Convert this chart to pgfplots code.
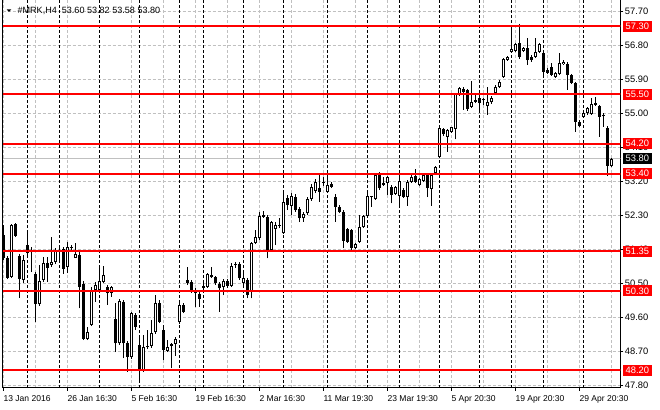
\documentclass[border=0pt]{standalone}
\usepackage{pgfplots}
\pgfplotsset{compat=1.18}
\usepackage{pgfplotstable}
\usepackage{fontspec}
\setmainfont{Liberation Sans}

\definecolor{gridgray}{RGB}{192,192,192}
\definecolor{mtred}{RGB}{255,0,0}

% H4 candles, x = bar number (4 px per bar)
\pgfplotstableread{
k o h l c
0 51.78 52.04 51.12 51.16
1 51.16 51.22 50.61 50.65
3 52.07 52.10 51.73 51.76
4 51.22 51.28 50.12 50.61
6 51.51 51.89 51.25 51.30
7 51.38 51.47 50.80 51.32
8 50.75 50.80 49.48 49.95
11 51.03 51.21 50.54 50.91
14 51.38 51.51 51.06 51.36
15 51.41 51.46 50.75 50.89
17 51.45 51.51 51.38 51.44
19 51.25 51.38 49.84 50.40
20 50.48 50.56 49.00 49.03
26 50.41 50.46 49.93 50.24
28 49.56 49.98 48.68 48.91
30 50.00 50.06 48.52 48.91
31 48.91 48.97 48.16 48.56
33 49.66 49.71 49.26 49.34
34 48.87 49.13 47.87 48.21
39 49.97 50.06 49.45 49.48
40 49.27 49.40 48.47 48.74
42 48.89 48.91 48.25 48.84
45 49.93 49.98 49.71 49.75
46 50.59 50.94 50.46 50.50
47 50.53 50.59 50.24 50.28
48 50.31 50.38 49.88 50.24
49 50.22 50.28 49.88 50.08
50 50.40 50.56 50.27 50.39
52 50.72 50.92 50.64 50.66
53 50.66 50.69 50.46 50.50
54 50.48 50.54 49.74 50.37
56 50.56 50.61 50.38 50.43
58 50.99 51.06 50.91 50.98
59 51.01 51.06 50.59 50.63
61 50.59 50.64 50.10 50.19
65 52.30 52.42 52.23 52.26
66 52.26 52.31 51.16 51.38
69 52.03 52.22 51.96 52.02
71 52.75 52.84 52.44 52.57
73 52.79 52.86 52.39 52.44
74 52.46 52.52 52.12 52.22
79 53.02 53.37 52.66 52.93
80 53.17 53.32 53.08 53.16
82 53.12 53.18 53.02 53.06
83 52.79 52.86 52.13 52.52
84 52.53 52.57 52.36 52.40
85 52.38 52.44 51.43 51.63
86 51.93 51.96 51.57 51.60
87 51.91 51.94 51.38 51.43
92 52.80 52.81 52.53 52.78
94 53.37 53.46 52.97 53.02
95 53.15 53.32 53.08 53.10
97 53.06 53.10 52.62 52.84
100 52.97 53.02 52.76 52.79
103 53.34 53.52 53.16 53.19
106 53.37 53.39 52.78 53.02
110 54.58 54.61 54.40 54.45
115 55.64 55.71 55.09 55.57
116 55.62 55.64 55.07 55.11
119 55.40 55.53 55.02 55.27
120 55.35 55.41 55.22 55.34
129 56.85 57.36 56.44 56.48
131 56.72 56.99 56.28 56.41
132 56.50 56.54 56.36 56.41
135 56.59 56.62 55.97 56.10
136 56.15 56.20 56.04 56.08
137 56.23 56.33 55.99 56.01
141 56.31 56.36 55.62 56.01
142 56.01 56.04 55.78 55.81
143 55.80 55.83 54.51 54.78
144 54.78 54.82 54.64 54.66
148 55.28 55.42 55.19 55.22
149 55.19 55.22 54.38 54.91
150 54.93 55.00 54.65 54.92
151 54.60 54.66 53.34 53.61
}\bear

\pgfplotstableread{
k o h l c
2 50.68 52.07 50.64 52.04
5 50.59 51.25 50.51 51.12
9 49.95 50.99 49.90 50.55
10 50.59 51.21 50.54 51.03
12 50.99 51.72 50.93 51.06
13 51.06 51.43 51.01 51.36
16 50.93 51.60 50.77 51.47
18 51.18 51.56 51.17 51.28
21 49.03 49.35 49.00 49.20
22 49.40 50.40 49.37 50.31
23 50.32 50.54 50.01 50.46
24 50.32 50.94 50.30 50.56
25 50.54 50.96 50.51 50.71
27 50.24 50.44 50.15 50.40
29 48.91 50.09 48.87 50.04
32 48.54 49.73 48.50 49.71
35 48.21 49.13 48.15 48.82
36 48.81 49.26 48.76 48.85
37 48.84 49.53 48.79 49.18
38 49.20 50.19 49.16 49.97
41 48.72 49.00 48.68 48.82
43 48.89 49.08 48.58 49.03
44 49.47 50.01 49.42 49.93
51 50.40 50.78 50.38 50.75
55 50.40 50.61 50.19 50.56
57 50.43 51.04 50.40 50.97
60 50.50 50.85 50.46 50.63
62 50.28 51.59 50.10 51.56
63 51.58 51.91 51.54 51.73
64 51.69 52.40 51.65 52.28
67 51.38 52.15 51.36 52.12
68 51.94 52.13 51.51 52.04
70 51.82 52.90 51.81 52.65
72 52.56 52.89 52.31 52.81
75 52.22 52.39 52.13 52.33
76 52.35 52.79 52.31 52.73
77 52.72 53.13 52.68 53.06
78 52.94 53.26 52.89 53.17
81 52.93 53.28 52.89 53.10
88 51.43 51.57 51.40 51.54
89 51.60 52.31 51.57 51.98
90 51.98 52.31 51.96 52.28
91 52.28 52.88 52.26 52.81
93 52.72 53.41 52.71 53.37
96 53.15 53.34 52.84 53.32
98 52.86 53.08 52.84 53.04
99 52.81 53.32 52.55 53.21
101 52.79 53.24 52.55 53.19
102 53.19 53.41 53.16 53.32
104 53.10 53.29 53.08 53.25
105 53.22 53.43 53.18 53.37
107 53.00 53.39 52.56 53.37
108 53.41 53.61 53.37 53.57
109 53.84 54.64 53.82 54.60
111 54.38 54.59 53.98 54.56
112 54.50 54.65 54.48 54.63
113 54.58 55.54 54.31 55.51
114 55.49 55.71 55.46 55.66
117 55.18 55.86 55.14 55.31
118 55.31 55.49 55.27 55.32
121 55.19 55.71 54.96 55.31
122 55.29 55.46 55.25 55.41
123 55.55 55.75 55.51 55.69
124 55.69 55.88 55.67 55.84
125 55.95 56.46 55.94 56.43
126 56.41 56.52 56.39 56.50
127 56.63 57.29 56.60 56.70
128 56.66 56.86 56.62 56.83
130 56.66 56.76 56.62 56.72
133 56.50 56.99 56.46 56.63
134 56.63 56.86 56.60 56.83
138 55.95 56.09 55.94 56.06
139 56.04 56.61 56.01 56.32
140 56.31 56.41 56.28 56.37
145 54.91 55.09 54.88 55.00
146 55.00 55.18 54.96 55.13
147 54.98 55.40 54.96 55.25
152 53.60 53.82 53.58 53.80
}\bull

\begin{document}
\begin{tikzpicture}
\useasboundingbox (-2.025pt,-16.5pt) rectangle (492.975pt,291pt);
\begin{axis}[
    name=ax, at={(0,0)}, anchor=south west,
    scale only axis, width=463.2pt, height=291pt,
    xmin=-0.15, xmax=154.25, ymin=47.73, ymax=58.0,
    axis x line*=bottom, axis y line*=right,
    axis line style={black, line width=0.75pt},
    tick align=outside, major tick length=2.25pt, minor tick length=0pt,
    tick style={black, line width=0.75pt},
    xtick={0,16,32,48,64,80,96,112,128,144},
    xticklabels={13 Jan 2016, 26 Jan 16:30, 5 Feb 16:30, 19 Feb 16:30, 2 Mar 16:30,
        11 Mar 19:30, 23 Mar 19:30, 5 Apr 20:30, 19 Apr 20:30, 29 Apr 20:30},
    minor xtick={8,24,40,56,72,88,104,120,136,152},
    ytick={47.8,48.7,49.6,50.5,51.4,52.3,53.2,54.1,55.0,55.9,56.8,57.7},
    yticklabels={47.80,48.70,49.60,50.50,51.40,52.30,53.20,54.10,55.00,55.90,56.80,57.70},
    xmajorgrids, xminorgrids, ymajorgrids,
    major grid style={gridgray, line width=0.75pt, dash pattern=on 2.25pt off 1.5pt},
    minor grid style={gridgray, line width=0.75pt, dash pattern=on 2.25pt off 1.5pt},
    extra x ticks={6,14,24,34,44,50,60,70,81,91,99,109,119,127,135,145},
    extra x tick labels={},
    extra x tick style={grid=major, major tick length=0pt,
        major grid style={black, line width=0.75pt, dash pattern=on 2.25pt off 1.5pt}},
    xticklabel style={font=\fontsize{6.4}{7}\selectfont, anchor=base west, inner sep=0pt, yshift=-8pt},
    yticklabel style={font=\fontsize{7}{8}\selectfont, anchor=west, inner sep=0pt, xshift=1pt},
]
% current price line
\addplot[gridgray, line width=0.75pt, forget plot] coordinates {(-1,53.80) (156,53.80)};

% wicks
\addplot[draw=none, mark=none, forget plot, error bars/.cd, y dir=plus, y explicit,
    error mark=none, error bar style={draw=black, line width=0.75pt}]
    table[x=k, y=l, y error plus expr=\thisrow{h}-\thisrow{l}] {\bear};
\addplot[draw=none, mark=none, forget plot, error bars/.cd, y dir=plus, y explicit,
    error mark=none, error bar style={draw=black, line width=0.75pt}]
    table[x=k, y=l, y error plus expr=\thisrow{h}-\thisrow{l}] {\bull};

% bodies: black for falling bars
\addplot[draw=none, mark=none, forget plot, error bars/.cd, y dir=plus, y explicit,
    error mark=none, error bar style={draw=black, line width=2.25pt}]
    table[x=k, y=c, y error plus expr={max(\thisrow{o}-\thisrow{c},0.03)}] {\bear};
% rising bars: black outline, white inside
\addplot[draw=none, mark=none, forget plot, error bars/.cd, y dir=plus, y explicit,
    error mark=none, error bar style={draw=black, line width=2.25pt}]
    table[x=k, y=o, y error plus expr={max(\thisrow{c}-\thisrow{o},0.03)}] {\bull};
\addplot[draw=none, mark=none, forget plot, error bars/.cd, y dir=plus, y explicit,
    error mark=none, error bar style={draw=white, line width=0.75pt}]
    table[x=k, y expr=\thisrow{o}+0.0265, y error plus expr={max(\thisrow{c}-\thisrow{o}-0.053,0)}] {\bull};

% horizontal levels
\addplot[mtred, line width=1.5pt, forget plot] coordinates {(-1,57.30) (156,57.30)};
\addplot[mtred, line width=1.5pt, forget plot] coordinates {(-1,55.50) (156,55.50)};
\addplot[mtred, line width=1.5pt, forget plot] coordinates {(-1,54.20) (156,54.20)};
\addplot[mtred, line width=1.5pt, forget plot] coordinates {(-1,53.40) (156,53.40)};
\addplot[mtred, line width=1.5pt, forget plot] coordinates {(-1,51.35) (156,51.35)};
\addplot[mtred, line width=1.5pt, forget plot] coordinates {(-1,50.30) (156,50.30)};
\addplot[mtred, line width=1.5pt, forget plot] coordinates {(-1,48.20) (156,48.20)};

\coordinate (r1) at (axis cs:154.25,57.30);
\coordinate (r2) at (axis cs:154.25,55.50);
\coordinate (r3) at (axis cs:154.25,54.20);
\coordinate (r4) at (axis cs:154.25,53.40);
\coordinate (r5) at (axis cs:154.25,51.35);
\coordinate (r6) at (axis cs:154.25,50.30);
\coordinate (r7) at (axis cs:154.25,48.20);
\coordinate (cp) at (axis cs:154.25,53.80);
\end{axis}

\draw[black, line width=0.75pt] (ax.south west) -- (ax.north west);

\tikzset{plbl/.style={anchor=west, xshift=1.8pt, minimum width=21.5pt, minimum height=8.25pt,
    inner sep=0pt, text=white, font=\fontsize{7}{8}\selectfont}}
\node[plbl, fill=mtred] at (r1) {57.30};
\node[plbl, fill=mtred] at (r2) {55.50};
\node[plbl, fill=mtred] at (r3) {54.20};
\node[plbl, fill=mtred] at (r4) {53.40};
\node[plbl, fill=mtred] at (r5) {51.35};
\node[plbl, fill=mtred] at (r6) {50.30};
\node[plbl, fill=mtred] at (r7) {48.20};
\node[plbl, fill=black] at (cp) {53.80};

% chart header
\fill[black] (3.0pt,284.0pt) -- (6.45pt,284.0pt) -- (4.7pt,282.0pt) -- cycle;
\node[anchor=base west, inner sep=0pt, font=\fontsize{6.8}{8}\selectfont]
    at (10.95pt,280.5pt) {\#MRK,H4\ \ 53.60 53.82 53.58 53.80};
\end{tikzpicture}
\end{document}
